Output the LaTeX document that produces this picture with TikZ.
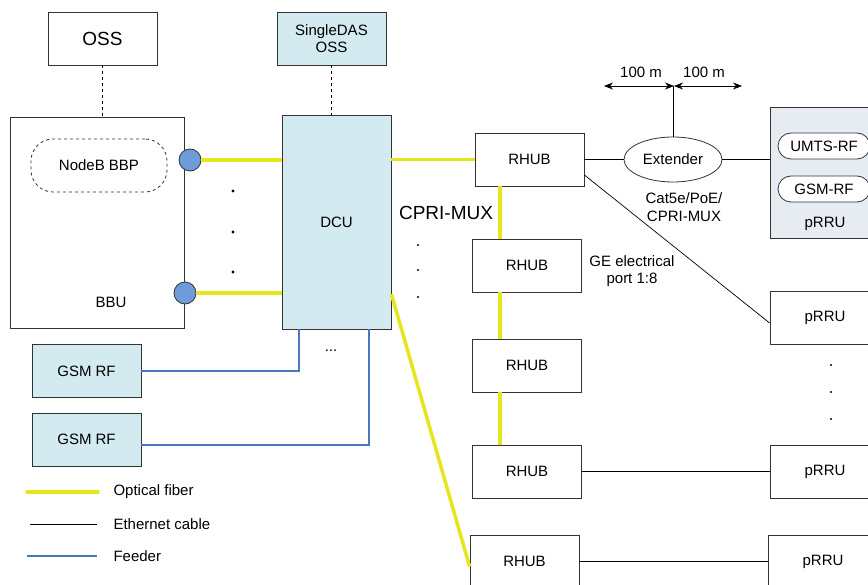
\documentclass[tikz,border=0pt]{standalone}
\usepackage{fontspec}
\setmainfont{Liberation Sans}
\usepackage{tikz}
\usetikzlibrary{shapes.geometric, arrows.meta}
\usepackage{xcolor}
\definecolor{fibercol}{HTML}{E6E61E}
\definecolor{dcublue}{HTML}{D3EAF0}
\definecolor{prrufill}{HTML}{E7ECF2}
\definecolor{portblue}{HTML}{6F9BD8}
\definecolor{feedcol}{HTML}{4A76C0}
\definecolor{boxline}{HTML}{333333}

\begin{document}
\begin{tikzpicture}[x=1pt, y=-1pt, font=\fontsize{15}{17.5}\selectfont,
    box/.style={draw=boxline, line width=0.8pt, minimum width=109pt, minimum height=53pt, inner sep=0pt, align=center},
    bluebox/.style={box, fill=dcublue},
    fiber/.style={draw=fibercol, line width=3.5pt},
    eth/.style={draw=black, line width=0.7pt},
    feeder/.style={draw=feedcol, line width=1.1pt},
    port/.style={circle, draw=boxline, fill=portblue, line width=0.8pt, minimum size=22pt, inner sep=0pt},
    pill/.style={draw=boxline, fill=white, line width=0.8pt, rounded corners=13pt, minimum width=92pt, minimum height=26pt, inner sep=0pt},
    bigfont/.style={font=\fontsize{19}{22}\selectfont},
    reach/.style={eth, {Stealth[length=9pt, width=7pt]}-{Stealth[length=9pt, width=7pt]}}]

    % Page frame
    \useasboundingbox (0,0) rectangle (868,585);

    % Management systems
    \node[box, bigfont] (oss) at (102.5,38.5) {OSS};
    \node[bluebox] (sdoss) at (331.5,38.5) {SingleDAS\\OSS};

    % Baseband unit with its ports
    \node[box, minimum width=174pt, minimum height=211pt] (bbu) at (97,222.5) {};
    \node (bbulbl) at (111,302) {BBU};
    \node[box, dashed, rounded corners=22pt, minimum width=136pt] (bbp) at (99,165.5) {NodeB BBP};
    \node[port] (port1) at (190,160) {};
    \node[port] (port2) at (185,293) {};

    % DCU and GSM RF units
    \node[bluebox, minimum height=214pt] (dcu) at (336.5,222) {DCU};
    \node[bluebox] (gsm1) at (86.5,371) {GSM RF};
    \node[bluebox] (gsm2) at (86.5,439.5) {GSM RF};

    % RHUB chain
    \node[box] (rhub1) at (529.5,159.5) {RHUB};
    \node[box] (rhub2) at (527,265.5) {RHUB};
    \node[box] (rhub3) at (527,365.5) {RHUB};
    \node[box] (rhub4) at (527,471.5) {RHUB};
    \node[box] (rhub5) at (524.5,561.5) {RHUB};

    % Extender and remote radio units
    \node[draw=boxline, line width=0.8pt, ellipse, minimum width=98pt, minimum height=45pt, inner sep=0pt] (ext) at (673,159.5) {Extender};
    \node[box, fill=prrufill, minimum width=110pt, minimum height=131pt] (prru0) at (825,172.5) {};
    \node (prru0lbl) at (825,224) {pRRU};
    \node[pill] (umts) at (824,146) {UMTS-RF};
    \node[pill] (gsmrf) at (824,189) {GSM-RF};
    \node[box, minimum width=110pt] (prru1) at (825,317.5) {pRRU};
    \node[box, minimum width=110pt] (prru2) at (825,471.5) {pRRU};
    \node[box, minimum width=110pt] (prru3) at (823,561.5) {pRRU};

    % Management links
    \draw[dashed, line width=0.7pt] (oss) -- (oss |- bbu.north);
    \draw[dashed, line width=0.7pt] (sdoss) -- (sdoss |- dcu.north);

    % Optical fiber
    \coordinate (fibx) at (500,0);
    \draw[fiber] (port1.east) -- (port1 -| dcu.west);
    \draw[fiber] (port2.east) -- (port2 -| dcu.west);
    \draw[fiber] (rhub1.west -| dcu.east) -- (rhub1.west);
    \draw[fiber] (rhub1.south -| fibx) -- (rhub2.north -| fibx);
    \draw[fiber] (rhub2.south -| fibx) -- (rhub3.north -| fibx);
    \draw[fiber] (rhub3.south -| fibx) -- (rhub4.north -| fibx);
    \draw[fiber] ([yshift=-1pt]port2 -| dcu.east) -- ([yshift=-5pt]rhub5.west);

    % Ethernet cables
    \draw[eth] (rhub1.east) -- (ext.west);
    \draw[eth] (ext.east) -- (ext.east -| prru0.west);
    \draw[eth] ([yshift=-15.5pt]rhub1.east) -- ([yshift=-5.5pt]prru1.west);
    \draw[eth] (rhub4.east) -- (prru2.west);
    \draw[eth] (rhub5.east) -- (prru3.west);

    % Extender reach
    \coordinate (reachc) at (674,86);
    \draw[eth] (ext.north) -- (ext.north |- reachc);
    \draw[reach] (reachc) -- ++(-70,0);
    \draw[reach] (reachc) -- ++(68,0);
    \node (reachl) at (641,72) {100 m};
    \node (reachr) at (704,72) {100 m};

    % Feeders
    \draw[feeder] (gsm1.east) -| ([xshift=-37.5pt]dcu.south);
    \draw[feeder] ([yshift=-5.5pt]gsm2.east) -| ([xshift=32.5pt]dcu.south);

    % Labels and dots
    \node[bigfont] (cpri) at (446,213) {CPRI-MUX};
    \node[align=center] (cat5e) at (684,207) {Cat5e/PoE/\\CPRI-MUX};
    \node[align=center] (geport) at (632,271) {GE electrical\\port 1:8};
    \node (dcudots) at (331,351) {...};
    \foreach \y in {191,232,272} \fill (233,\y) circle (1.6pt);
    \foreach \y in {245,270,297} \fill (418,\y) circle (1.1pt);
    \foreach \y in {365,392,419} \fill (831,\y) circle (1.2pt);

    % Legend
    \coordinate (lgfa) at (27,492);
    \coordinate (lgfb) at (98,492);
    \coordinate (lgea) at (30,524);
    \coordinate (lgeb) at (97,524);
    \coordinate (lgda) at (27,556);
    \coordinate (lgdb) at (97,556);
    \draw[fiber, line cap=round] (lgfa) -- (lgfb);
    \draw[eth] (lgea) -- (lgeb);
    \draw[feeder] (lgda) -- (lgdb);
    \node[anchor=west] (lgf) at (110,492) {Optical fiber};
    \node[anchor=west] (lge) at (110,524) {Ethernet cable};
    \node[anchor=west] (lgd) at (110,556) {Feeder};

\end{tikzpicture}
\end{document}
